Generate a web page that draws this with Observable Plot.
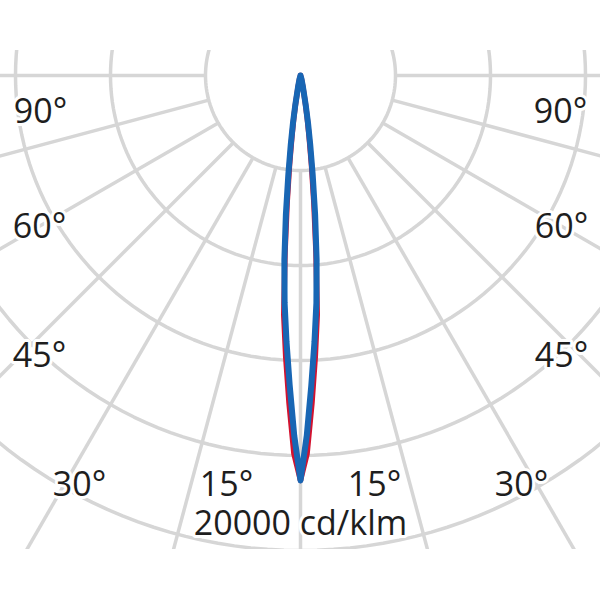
<!DOCTYPE html>
<html>
<head>
<meta charset="utf-8">
<script src="https://cdn.jsdelivr.net/npm/d3@7"></script>
<script src="https://cdn.jsdelivr.net/npm/@observablehq/plot@0.6"></script>
<style>
  html, body { margin: 0; padding: 0; background: #ffffff; }
  #chart svg { display: block; }
</style>
</head>
<body>
<div id="chart"></div>
<script>
// ---- data (cd/klm) ----
const ringValues = [4000, 8000, 12000, 16000, 20000];
const spokeAngles = [-90, -75, -60, -45, -30, -15, 0, 15, 30, 45, 60, 75, 90];
const gammaAngles = [0, 1, 2, 3, 4, 5, 6, 7, 8, 9, 10, 12, 15, 20];
const planeC0C180 = [17050, 15920, 13810, 11870, 10100, 7490, 5390, 3790, 2610, 1810, 1160, 460, 170, 0];
const planeC90C270 = [17050, 15160, 13050, 11240, 9600, 7790, 5890, 4210, 2950, 2020, 1260, 510, 170, 0];
const angleLabels = ["90°", "60°", "45°", "30°", "15°"];
const scaleLabel = "20000 cd/klm";

// ---- layout helpers ----
const k = 4000 / 95;             // cd/klm per pixel
const cy = 75;                    // pixel row of the polar centre
const px2x = px => (px - 300) * k;
const px2y = py => -(py - cy) * k;
const rad = d => d * Math.PI / 180;

function curve(values, name) {
  const pts = [];
  for (let i = gammaAngles.length - 1; i >= 0; i--) {
    const a = -rad(gammaAngles[i]);
    pts.push({x: values[i] * Math.sin(a), y: -values[i] * Math.cos(a), s: name});
  }
  for (let i = 1; i < gammaAngles.length; i++) {
    const a = rad(gammaAngles[i]);
    pts.push({x: values[i] * Math.sin(a), y: -values[i] * Math.cos(a), s: name});
  }
  return pts;
}

const ringPts = [];
for (const r of ringValues) {
  for (let d = 0; d <= 360; d += 2) {
    ringPts.push({x: r * Math.sin(rad(d)), y: -r * Math.cos(rad(d)), r});
  }
}
const spokes = spokeAngles.map(a => ({
  x1: ringValues[0] * Math.sin(rad(a)), y1: -ringValues[0] * Math.cos(rad(a)),
  x2: 40000 * Math.sin(rad(a)), y2: -40000 * Math.cos(rad(a))
}));

const labelPx = [[40, 111.5], [39, 226.5], [39, 355.5], [79, 485], [226, 485]];
const labels = [];
angleLabels.forEach((t, i) => {
  labels.push({x: px2x(labelPx[i][0]), y: px2y(labelPx[i][1]), t});
  labels.push({x: px2x(600 - labelPx[i][0]), y: px2y(labelPx[i][1]), t});
});
labels.push({x: px2x(300), y: px2y(524), t: scaleLabel});

const grid = "#d6d6d6";
const chart = Plot.plot({
  width: 600,
  height: 600,
  marginLeft: 0, marginRight: 0, marginTop: 50, marginBottom: 51,
  x: {domain: [px2x(0), px2x(600)], axis: null},
  y: {domain: [px2y(549), px2y(50)], axis: null},
  style: {background: "#ffffff", fontFamily: "'Open Sans', sans-serif"},
  marks: [
    Plot.line(ringPts, {x: "x", y: "y", z: "r", stroke: grid, strokeWidth: 3.5, clip: true}),
    Plot.link(spokes, {x1: "x1", y1: "y1", x2: "x2", y2: "y2", stroke: grid, strokeWidth: 3.5, clip: true}),
    Plot.line(curve(planeC0C180, "C0-C180"), {x: "x", y: "y", stroke: "#d3122f", strokeWidth: 5.5, strokeLinejoin: "round"}),
    Plot.line(curve(planeC90C270, "C90-C270"), {x: "x", y: "y", stroke: "#1866b4", strokeWidth: 6, strokeLinejoin: "round"}),
    Plot.text(labels, {x: "x", y: "y", text: "t", fontSize: 34, fill: "#1e1e1e", stroke: "#ffffff", strokeWidth: 6, textAnchor: "middle"})
  ]
});
document.getElementById("chart").appendChild(chart);
</script>
</body>
</html>
